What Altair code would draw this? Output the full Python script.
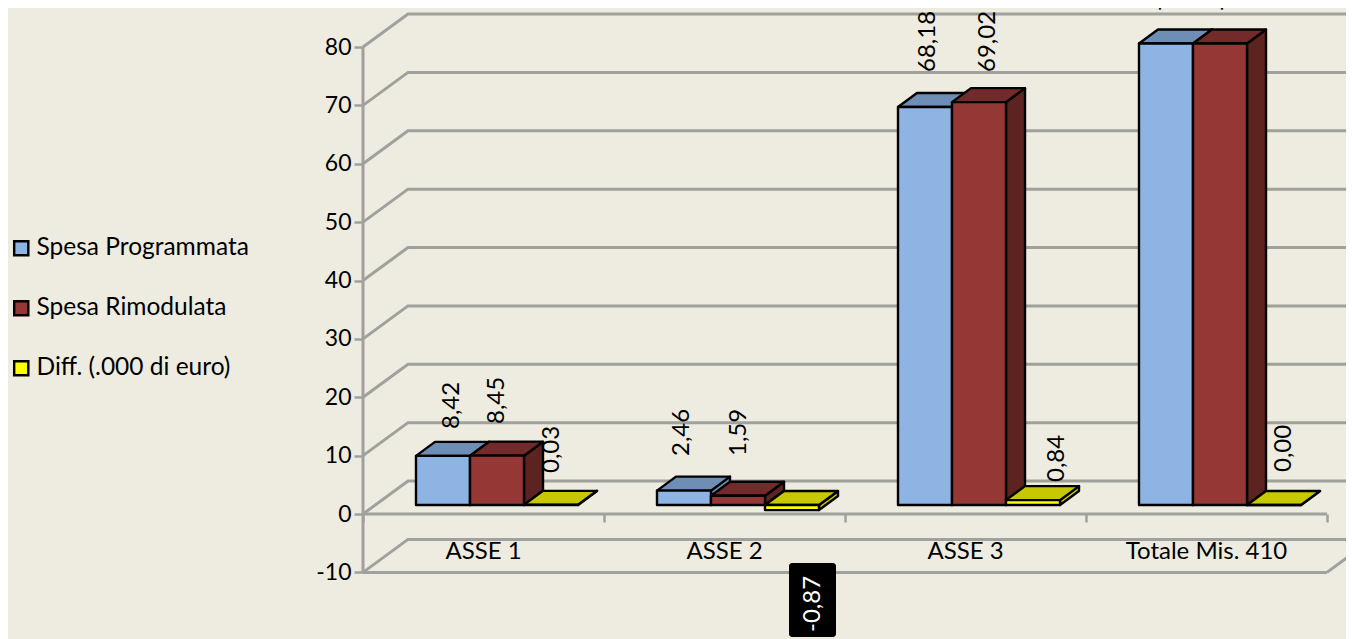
import altair as alt
import pandas as pd

categories = ["ASSE 1", "ASSE 2", "ASSE 3", "Totale Mis. 410"]
series = ["Spesa Programmata", "Spesa Rimodulata", "Diff. (.000 di euro)"]
programmata = [8.42, 2.46, 68.18, 79.06]
rimodulata = [8.45, 1.59, 69.02, 79.06]
diff = [0.03, -0.87, 0.84, 0.00]
y_ticks = [-10, 0, 10, 20, 30, 40, 50, 60, 70, 80]

values = [programmata, rimodulata, diff]
front = ["#8EB4E3", "#953735", "#FFFF00"]
top = ["#6F8EB5", "#722B2A", "#C8C800"]
side = ["#6F8EB5", "#5D2320", "#C8C800"]
BG = "#EEECE1"
GRID = "#A0A09C"
FONT = "Lato"

# layout (page pixels turned into scale units)
W, H = 1338, 631
RIGHT = 8 + W
PX_X0, PX_CAT = 363, 241
PX_Y0, PX_UNIT = 514, 5.8375
def ux(px): return (px - PX_X0) / PX_CAT
def uy(px): return (PX_Y0 - px) / PX_UNIT
DX, DY = 19 / PX_CAT, 14 / PX_UNIT
BW = 54 / PX_CAT
GAP = 53 / PX_CAT
BASE = 9 / PX_UNIT
WX, WY = 45 / PX_CAT, 33 / PX_UNIT
xs = alt.Scale(domain=[ux(8), ux(RIGHT)], nice=False, zero=False)
ys = alt.Scale(domain=[uy(8 + H), uy(8)], nice=False, zero=False)
color_scale = alt.Scale(domain=series, range=front)

x_axis = alt.Axis(values=[0, 1, 2, 3, 4], domain=False, grid=False, labels=False, title=None,
                  tickColor=GRID, tickWidth=2.5, tickSize=8, offset=-(8 + H - PX_Y0))
y_axis = alt.Axis(values=y_ticks, domain=False, grid=False, title=None, labelFont=FONT,
                  labelFontSize=23, labelColor="black", labelExpr="toString(datum.value)",
                  labelPadding=3, tickColor=GRID, tickWidth=2.5, tickSize=9, offset=-(PX_X0 - 8))
def X(f="x"): return alt.X(f"{f}:Q", scale=xs, axis=x_axis)
def Y(f="y"): return alt.Y(f"{f}:Q", scale=ys, axis=y_axis)

# wall grid lines
rows = []
for v in y_ticks:
    pts = [(0, v), (WX, v + WY), (ux(RIGHT), v + WY)]
    for n, (a, b) in enumerate(pts):
        rows.append(dict(g=f"w{v}", n=n, x=a, y=b))
for v in (0, -10):
    rows += [dict(g=f"f{v}", n=0, x=0, y=v), dict(g=f"f{v}", n=1, x=4, y=v)]
rows += [dict(g="r", n=0, x=4, y=-10), dict(g="r", n=1, x=ux(1354), y=-10 + 20 / PX_UNIT)]
rows += [dict(g="axis", n=0, x=0, y=-10), dict(g="axis", n=1, x=0, y=80)]
grid = alt.Chart(pd.DataFrame(rows)).mark_line(color=GRID, strokeWidth=3, clip=True).encode(
    x=X(), y=Y(), detail="g:N", order="n:Q")

layers = [grid]
stroke = dict(stroke="black", strokeWidth=2.4, strokeJoin="round")
for s, name in enumerate(series):
    fr, tp, sd = [], [], []
    for c, cat in enumerate(categories):
        v = values[s][c]
        x0 = c + GAP + s * BW
        x1 = x0 + BW
        hi = BASE + max(v, 0)
        lo = BASE + min(v, 0)
        fr.append(dict(series=name, x=x0, x2=x1, y=hi, y2=lo))
        tp += [dict(b=c, y=hi, x=x0, x2=x1), dict(b=c, y=hi + DY, x=x0 + DX, x2=x1 + DX)]
        sd += [dict(b=c, x=x1, y=hi, y2=lo), dict(b=c, x=x1 + DX, y=hi + DY, y2=lo + DY)]
    layers.append(alt.Chart(pd.DataFrame(sd)).mark_area(color=side[s], **stroke).encode(
        x=X(), y=Y(), y2="y2:Q", detail="b:N"))
    layers.append(alt.Chart(pd.DataFrame(tp)).mark_area(orient="horizontal", color=top[s], **stroke).encode(
        y=Y(), x=X(), x2="x2:Q", detail="b:N"))
    layers.append(alt.Chart(pd.DataFrame(fr)).mark_rect(**stroke).encode(
        x=X(), x2="x2:Q", y=Y(), y2="y2:Q",
        color=alt.Color("series:N", scale=color_scale, legend=alt.Legend(
            orient="none", legendX=1, legendY=228, title=None, symbolType="square", symbolSize=200,
            symbolStrokeColor="black", symbolStrokeWidth=2.4, labelFont=FONT, labelFontSize=24.5,
            labelLimit=300, labelColor="black", rowPadding=34, labelOffset=3, padding=0))))

# category labels
cat_df = pd.DataFrame(dict(t=categories, x=[i + 0.5 for i in range(len(categories))], y=[uy(552)] * 4))
layers.append(alt.Chart(cat_df).mark_text(font=FONT, fontSize=24, color="black", baseline="middle").encode(
    x=X(), y=Y(), text="t:N"))

# data labels: hand-placed in the reference (x centre, bottom edge, in page pixels)
label_x = [452, 497, 552, 682, 739, 813, 928, 988, 1057, 1169, 1231, 1284]
label_bottom = [429, 424, 473, 456, 456, 632, 72, 72, 482, 11, 11, 472]
label_vals = [programmata[0], rimodulata[0], diff[0], programmata[1], rimodulata[1], diff[1],
              programmata[2], rimodulata[2], diff[2], programmata[3], rimodulata[3], diff[3]]
lab = pd.DataFrame(dict(t=[f"{v:.2f}".replace(".", ",") for v in label_vals],
                        x=[ux(p) for p in label_x], y=[uy(p) for p in label_bottom]))
lab["neg"] = [v < 0 for v in label_vals]

box = pd.DataFrame(dict(x=[ux(789)], x2=[ux(836)], y=[uy(563)], y2=[uy(637)]))
layers.append(alt.Chart(box).mark_rect(color="black", cornerRadius=3).encode(x=X(), x2="x2:Q", y=Y(), y2="y2:Q"))
layers.append(alt.Chart(lab).mark_text(font=FONT, fontSize=24, angle=270, align="left", baseline="middle").encode(
    x=X(), y=Y(), text="t:N",
    color=alt.condition("datum.neg", alt.value("white"), alt.value("black"))))

chart = alt.layer(*layers).properties(
    width=W, height=H, background=BG, padding=0,
    autosize=alt.AutoSizeParams(type="none")
).configure_view(strokeWidth=0)

chart.save("out.html", embed_options={"renderer": "svg", "actions": False})
